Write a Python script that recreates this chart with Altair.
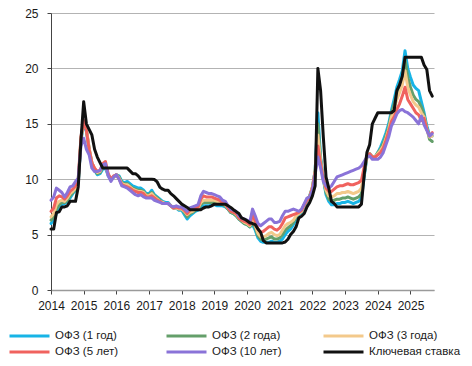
import altair as alt
import pandas as pd

series_names = ["ОФЗ (1 год)", "ОФЗ (2 года)", "ОФЗ (3 года)",
                "ОФЗ (5 лет)", "ОФЗ (10 лет)", "Ключевая ставка"]
series_colors = ["#17b4e6", "#649f6a", "#f3c98b", "#f0625e", "#8a73d8", "#111111"]
# legend is filled column by column, so this order gives rows 1y/2y/3y and 5y/10y/key
legend_order = [0, 3, 1, 4, 2, 5]
start_year = 2014
x_ticks = list(range(2014, 2026))
y_ticks = [0, 5, 10, 15, 20, 25]

# monthly values, Jan 2014 .. Sep 2025
ofz_1y = [
    6.0, 6.3, 6.9, 7.4, 7.7, 7.8, 8.0, 8.3, 8.7, 9.0, 9.6, 13.5,
    15.0, 14.3, 12.6, 11.4, 10.8, 10.4, 10.5, 10.9, 11.0, 10.3, 10.0, 10.2,
    10.4, 10.3, 9.8, 9.7, 9.8, 9.6, 9.4, 9.3, 9.2, 9.2, 9.0, 8.7,
    8.7, 9.0, 8.6, 8.4, 8.2, 8.0, 7.9, 7.9, 7.6, 7.4, 7.4, 7.2,
    7.2, 6.8, 6.4, 6.7, 6.9, 7.1, 7.2, 7.5, 7.6, 7.6, 7.6, 7.7,
    7.7, 7.6, 7.6, 7.6, 7.5, 7.3, 7.0, 6.9, 6.7, 6.4, 6.2, 6.0,
    5.9, 5.7, 5.9, 5.4, 4.7, 4.4, 4.3, 4.3, 4.3, 4.4, 4.3, 4.3,
    4.4, 4.6, 5.0, 5.3, 5.5, 5.9, 6.4, 6.8, 7.0, 7.6, 8.0, 8.5,
    9.2, 10.8, 16.0, 12.0, 10.0, 8.6, 8.0, 7.7, 7.7, 7.8, 7.8, 7.9,
    7.9, 8.0, 7.9, 7.8, 7.9, 8.0, 8.3, 10.2, 12.0, 12.3, 12.0, 12.0,
    12.4, 12.9, 13.5, 14.2, 15.0, 16.2, 17.2, 18.3, 19.0, 19.8, 21.6, 20.0,
    19.2, 18.5, 18.2, 18.0, 17.0, 16.0, 14.8, 14.0, 13.9,
]
ofz_2y = [
    6.3, 6.6, 7.3, 7.7, 7.9, 7.9, 8.1, 8.5, 8.8, 9.1, 9.7, 13.6,
    15.2, 14.5, 12.8, 11.5, 10.9, 10.5, 10.6, 11.1, 11.2, 10.4, 10.0, 10.2,
    10.4, 10.2, 9.7, 9.6, 9.6, 9.4, 9.2, 9.1, 9.0, 9.0, 8.9, 8.6,
    8.6, 8.8, 8.5, 8.3, 8.1, 7.9, 7.8, 7.8, 7.6, 7.4, 7.4, 7.3,
    7.3, 7.0, 6.6, 6.9, 7.0, 7.2, 7.3, 7.7, 7.9, 7.9, 7.9, 7.9,
    7.9, 7.8, 7.8, 7.7, 7.6, 7.3, 7.0, 6.9, 6.7, 6.4, 6.2, 6.0,
    5.9, 5.7, 6.1, 5.6, 4.9, 4.6, 4.5, 4.6, 4.7, 4.8, 4.6, 4.6,
    4.7, 5.0, 5.4, 5.6, 5.8, 6.1, 6.6, 6.9, 7.1, 7.7, 8.1, 8.5,
    9.3, 10.8, 15.0, 11.8, 10.0, 8.8, 8.2, 8.0, 8.1, 8.2, 8.2, 8.3,
    8.3, 8.4, 8.3, 8.2, 8.3, 8.4, 8.7, 10.4, 12.0, 12.3, 12.0, 12.0,
    12.4, 12.7, 13.2, 13.9, 14.7, 15.9, 16.8, 17.8, 18.5, 19.2, 20.8, 19.2,
    18.3, 17.6, 17.2, 17.0, 16.5, 15.8, 14.6, 13.6, 13.4,
]
ofz_3y = [
    6.6, 6.9, 7.7, 8.0, 8.1, 8.0, 8.3, 8.7, 8.9, 9.2, 9.8, 13.7,
    15.2, 14.5, 12.8, 11.5, 11.0, 10.6, 10.7, 11.2, 11.3, 10.4, 10.0, 10.2,
    10.4, 10.1, 9.6, 9.5, 9.5, 9.3, 9.1, 9.0, 8.9, 8.9, 8.8, 8.5,
    8.5, 8.7, 8.4, 8.2, 8.0, 7.9, 7.8, 7.8, 7.6, 7.4, 7.4, 7.3,
    7.3, 7.1, 6.8, 7.0, 7.1, 7.3, 7.4, 7.9, 8.1, 8.1, 8.1, 8.1,
    8.1, 8.0, 7.9, 7.8, 7.7, 7.4, 7.1, 7.0, 6.8, 6.5, 6.3, 6.1,
    6.0, 5.8, 6.4, 5.8, 5.1, 4.8, 4.8, 4.9, 5.1, 5.2, 5.0, 4.9,
    5.0, 5.4, 5.8, 6.0, 6.1, 6.3, 6.7, 6.9, 7.1, 7.7, 8.1, 8.4,
    9.3, 10.7, 14.0, 11.6, 10.0, 9.0, 8.5, 8.4, 8.5, 8.7, 8.7, 8.8,
    8.8, 8.9, 8.8, 8.7, 8.8, 8.9, 9.2, 10.7, 12.0, 12.3, 12.0, 12.0,
    12.3, 12.6, 13.0, 13.7, 14.5, 15.6, 16.3, 17.2, 17.8, 18.5, 19.8, 18.3,
    17.6, 17.0, 16.7, 16.5, 16.0, 15.6, 14.5, 13.8, 13.9,
]
ofz_5y = [
    7.1, 7.4, 8.3, 8.5, 8.4, 8.2, 8.5, 8.9, 9.1, 9.4, 10.0, 13.8,
    15.3, 14.4, 12.7, 11.5, 11.0, 10.7, 10.8, 11.4, 11.6, 10.5, 10.0, 10.3,
    10.4, 10.0, 9.5, 9.4, 9.3, 9.2, 9.0, 8.9, 8.8, 8.8, 8.7, 8.4,
    8.4, 8.5, 8.3, 8.1, 8.0, 7.8, 7.8, 7.8, 7.6, 7.4, 7.5, 7.4,
    7.4, 7.2, 6.9, 7.2, 7.3, 7.4, 7.5, 8.2, 8.5, 8.4, 8.4, 8.4,
    8.3, 8.2, 8.1, 7.9, 7.8, 7.4, 7.1, 7.0, 6.9, 6.5, 6.3, 6.2,
    6.1, 5.9, 6.8, 6.2, 5.5, 5.2, 5.3, 5.5, 5.7, 5.7, 5.5, 5.4,
    5.6, 6.0, 6.5, 6.6, 6.7, 6.8, 6.9, 7.0, 7.2, 7.7, 8.1, 8.4,
    9.2, 10.6, 13.0, 11.4, 10.0, 9.2, 8.9, 8.9, 9.1, 9.3, 9.4, 9.4,
    9.5, 9.6, 9.5, 9.5, 9.6, 9.7, 9.9, 11.1, 12.1, 12.3, 12.0, 12.0,
    12.2, 12.4, 12.8, 13.5, 14.3, 15.2, 15.6, 16.3, 16.8, 17.5, 18.3, 17.2,
    16.8, 16.4, 16.0, 15.8, 15.3, 15.5, 14.5, 13.9, 14.2,
]
ofz_10y = [
    8.1, 8.4, 9.2, 9.0, 8.8, 8.4, 8.8, 9.3, 9.4, 9.8, 10.1, 13.0,
    13.7, 12.7, 12.2, 11.0, 10.7, 10.7, 10.8, 11.3, 11.4, 10.3, 9.8, 10.2,
    10.4, 10.0, 9.4, 9.3, 9.2, 9.0, 8.8, 8.6, 8.5, 8.6, 8.4, 8.3,
    8.3, 8.3, 8.1, 8.0, 7.9, 7.8, 7.8, 7.8, 7.6, 7.5, 7.6, 7.5,
    7.5, 7.3, 7.1, 7.4, 7.5, 7.6, 7.7, 8.5, 8.9, 8.8, 8.7, 8.7,
    8.6, 8.5, 8.4, 8.1, 8.0, 7.6, 7.3, 7.2, 7.1, 6.7, 6.5, 6.4,
    6.3, 6.1, 7.3, 6.7, 6.0, 5.8, 6.0, 6.2, 6.4, 6.4, 6.1, 6.1,
    6.2, 6.7, 7.1, 7.1, 7.2, 7.3, 7.2, 7.1, 7.3, 7.8, 8.3, 8.4,
    9.0, 10.4, 12.0, 11.0, 9.8, 9.4, 9.2, 9.4, 9.8, 10.2, 10.3, 10.4,
    10.5, 10.6, 10.7, 10.8, 10.9, 11.0, 11.2, 11.6, 12.0, 12.1, 11.8, 11.8,
    11.8, 12.0, 12.4, 13.1, 13.8, 14.8, 15.3, 15.9, 16.2, 16.3, 16.1, 16.0,
    15.8, 15.6, 15.3, 15.0, 15.7, 14.9, 14.4, 13.9, 14.1,
]
key_rate = [
    5.5, 5.5, 7.0, 7.05, 7.5, 7.5, 7.6, 8.0, 8.0, 8.0, 9.3, 13.5,
    17.0, 15.0, 14.5, 14.0, 12.7, 12.0, 11.5, 11.0, 11.0, 11.0, 11.0, 11.0,
    11.0, 11.0, 11.0, 11.0, 11.0, 10.75, 10.5, 10.5, 10.3, 10.0, 10.0, 10.0,
    10.0, 10.0, 9.97, 9.75, 9.27, 9.1, 9.0, 9.0, 8.7, 8.5, 8.25, 8.0,
    7.75, 7.6, 7.45, 7.25, 7.25, 7.25, 7.25, 7.25, 7.4, 7.5, 7.5, 7.6,
    7.75, 7.75, 7.75, 7.75, 7.75, 7.6, 7.45, 7.25, 7.07, 6.9, 6.5, 6.4,
    6.25, 6.07, 6.0, 5.9, 5.5, 5.2, 4.45, 4.25, 4.25, 4.25, 4.25, 4.25,
    4.25, 4.25, 4.33, 4.58, 5.0, 5.27, 5.7, 6.5, 6.65, 6.9, 7.5, 7.9,
    8.5, 9.4, 20.0, 18.0, 13.8, 10.2, 9.2, 8.0, 7.8, 7.5, 7.5, 7.5,
    7.5, 7.5, 7.5, 7.5, 7.5, 7.5, 7.75, 10.4, 12.4, 13.1, 15.0, 15.5,
    16.0, 16.0, 16.0, 16.0, 16.0, 16.0, 16.2, 18.0, 18.5, 19.3, 21.0, 21.0,
    21.0, 21.0, 21.0, 21.0, 21.0, 20.3, 19.9, 18.0, 17.5,
]

all_series = [ofz_1y, ofz_2y, ofz_3y, ofz_5y, ofz_10y, key_rate]
rows = []
for k, (name, vals) in enumerate(zip(series_names, all_series)):
    for i, v in enumerate(vals):
        rows.append({"t": start_year + i / 12.0, "v": v, "s": name, "k": k})
df = pd.DataFrame(rows)

legend_names = [series_names[i] for i in legend_order]
legend_colors = [series_colors[i] for i in legend_order]
legend_widths = [3.4 if i == 5 else 3 for i in legend_order]

FONT = "Liberation Sans"

chart = alt.Chart(df).mark_line(strokeJoin="round", strokeCap="round").encode(
    x=alt.X("t:Q",
            scale=alt.Scale(domain=[2014, 2025.72], nice=False, zero=False),
            axis=alt.Axis(values=x_ticks, format="d", title=None, grid=False,
                          labelOverlap=False, labelFlush=False,
                          labelFontSize=12, labelPadding=6, tickSize=4,
                          tickColor="#444444", domainColor="#9a9a9a",
                          domainWidth=1.5, labelColor="#1a1a1a")),
    y=alt.Y("v:Q",
            scale=alt.Scale(domain=[0, 25], nice=False),
            axis=alt.Axis(values=y_ticks, title=None, grid=True,
                          labelFlush=False, gridColor="#b3b3b3",
                          labelFontSize=12, labelPadding=9, tickSize=4,
                          tickColor="#444444", domainColor="#444444",
                          labelColor="#1a1a1a")),
    color=alt.Color("s:N",
                    scale=alt.Scale(domain=legend_names, range=legend_colors),
                    sort=legend_names,
                    legend=alt.Legend(title=None, orient="none",
                                      legendX=-43, legendY=317,
                                      columns=3, symbolType="stroke",
                                      symbolSize=1600, symbolStrokeWidth=3,
                                      clipHeight=12, gridAlign="all",
                                      columnPadding=18, rowPadding=4,
                                      labelOffset=4, padding=0,
                                      labelFontSize=11.5, labelFont=FONT,
                                      labelColor="#1a1a1a", labelLimit=200)),
    strokeWidth=alt.StrokeWidth("s:N",
                                scale=alt.Scale(domain=legend_names,
                                                range=legend_widths),
                                legend=None),
    detail="k:O",
).properties(
    width=383, height=277,
    autosize=alt.AutoSizeParams(type="none"),
    padding={"left": 43, "top": 5, "right": 30, "bottom": 67},
).configure_view(stroke=None).configure_axis(labelFont=FONT)

chart.save("out.html", embed_options={"renderer": "svg", "actions": False})
